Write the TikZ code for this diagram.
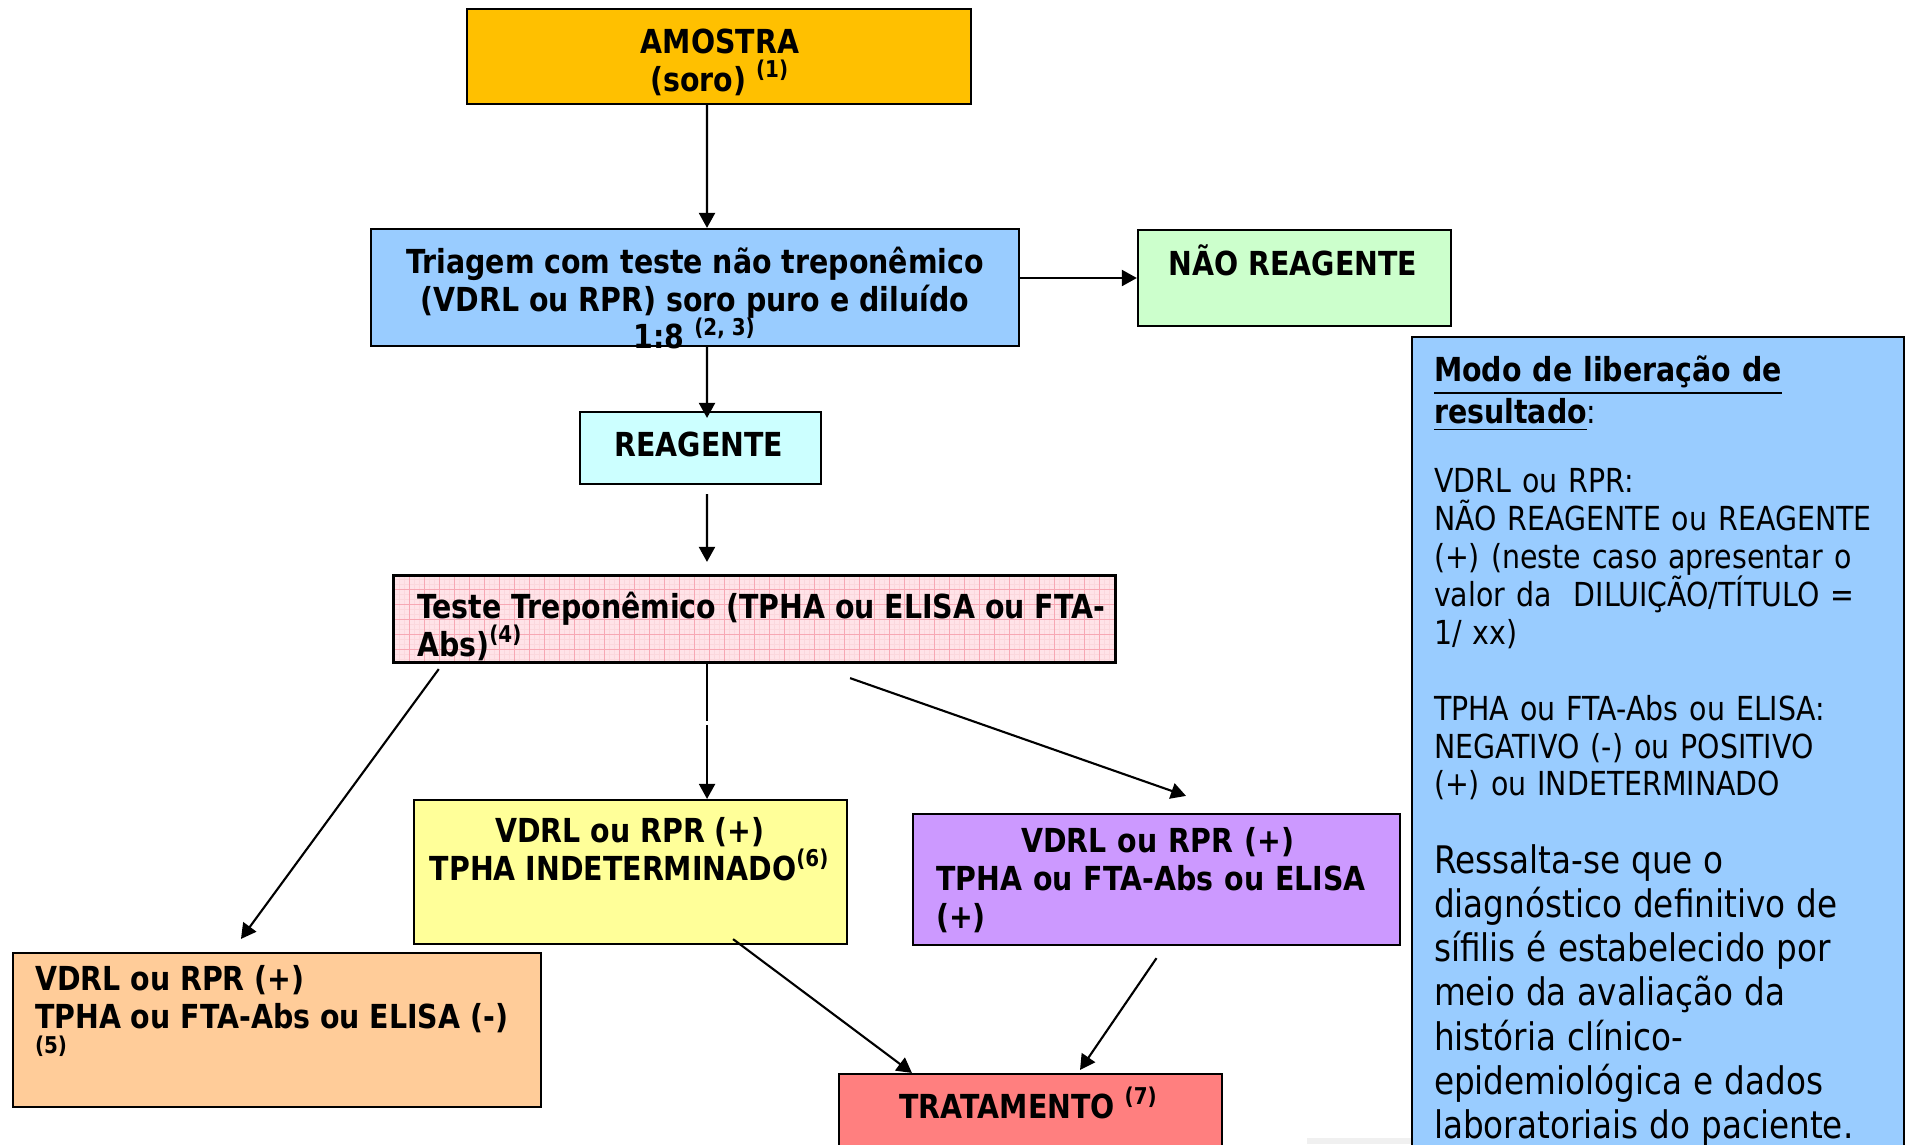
\documentclass[tikz,border=0pt]{standalone}
\usepackage{fontspec}
\setmainfont{DejaVu Sans}[FakeStretch=0.86]
\usepackage{tikz}
\usetikzlibrary{arrows.meta}
\setlength{\parindent}{0pt}

\definecolor{amostraC}{HTML}{FFC000}
\definecolor{triagemC}{HTML}{99CCFF}
\definecolor{naoC}{HTML}{CCFFCC}
\definecolor{reagC}{HTML}{CCFFFF}
\definecolor{testeC}{HTML}{FFE3E8}
\definecolor{gradeC}{HTML}{F7A8B4}
\definecolor{indetC}{HTML}{FFFF99}
\definecolor{posC}{HTML}{CC99FF}
\definecolor{negC}{HTML}{FFCC99}
\definecolor{tratC}{HTML}{FF7F7F}

\newcommand{\fluxfont}{\fontsize{9.4}{10.8}\selectfont\bfseries}
\newcommand{\notafont}{\fontsize{9.4}{10.8}\selectfont}
\newcommand{\grandefont}{\fontsize{10.8}{12.6}\selectfont}
\newcommand{\nota}[1]{\textsuperscript{#1}}

\tikzset{
  caixa/.style={draw=black, line width=0.6pt, inner sep=0pt},
  rotulo/.style={font=\fluxfont, inner sep=0pt, align=center},
}

\begin{document}
\begin{tikzpicture}[x=0.01cm, y=-0.01cm, line width=0.6pt, >={Triangle[length=1.5mm,width=1.6mm]}]
\useasboundingbox (0,0) rectangle (1907,1144);

% boxes
\node[caixa, fill=amostraC, minimum width=5.04cm, minimum height=0.95cm] (amostra) at (719,56.5) {};
\node[caixa, fill=triagemC, minimum width=6.48cm, minimum height=1.17cm] (triagem) at (695,287.5) {};
\node[caixa, fill=naoC, minimum width=3.13cm, minimum height=0.96cm] (nao) at (1294.5,278) {};
\node[caixa, fill=reagC, minimum width=2.41cm, minimum height=0.72cm] (reag) at (700.5,448) {};
\node[caixa, fill=testeC, minimum width=7.21cm, minimum height=0.86cm,
      path picture={
        \draw[gradeC!45, line width=0.15pt, step=0.05cm] (path picture bounding box.south west) grid (path picture bounding box.north east);
        \draw[gradeC, line width=0.25pt, step=0.15cm] (path picture bounding box.south west) grid (path picture bounding box.north east);
      }] (teste) at (754.5,619) {};
\draw[line width=0.6pt] (teste.south west) rectangle (teste.north east);
\node[caixa, fill=indetC, minimum width=4.33cm, minimum height=1.44cm] (indet) at (630.5,872) {};
\node[caixa, fill=posC, minimum width=4.87cm, minimum height=1.31cm] (pos) at (1156.5,879.5) {};
\node[caixa, fill=negC, minimum width=5.28cm, minimum height=1.54cm] (neg) at (277,1030) {};
\node[caixa, fill=tratC, minimum width=3.83cm, minimum height=0.86cm] (trat) at (1030.5,1117) {};
\node[caixa, fill=triagemC, minimum width=4.92cm, minimum height=8.23cm] (modo) at (1658,748.5) {};
\fill[black!6] (1307,1138) rectangle (1411,1144);

% texts
\node[rotulo] (amostra-t) at (720,62) {AMOSTRA\\(soro) \nota{(1)}};
\node[rotulo] (triagem-t) at (695,298) {Triagem com teste não treponêmico\\(VDRL ou RPR) soro puro e diluído\\1:8 \nota{(2, 3)}};
\node[rotulo] (nao-t) at (1293,260) {NÃO REAGENTE};
\node[rotulo] (reag-t) at (699,444) {REAGENTE};
\node[rotulo, anchor=west, align=left] (teste-t) at (416,626) {Teste Treponêmico (TPHA ou ELISA ou FTA-\\Abs)\nota{(4)}};
\node[rotulo] (indet-t) at (630,849) {VDRL ou RPR (+)\\TPHA INDETERMINADO\nota{(6)}};
\node[rotulo, anchor=west, text width=4.43cm, align=left] (pos-t) at (935,880) {{\centering VDRL ou RPR (+)\par}TPHA ou FTA-Abs ou ELISA\\(+)};
\node[rotulo, anchor=west, align=left] (neg-t) at (34,1016) {VDRL ou RPR (+)\\TPHA ou FTA-Abs ou ELISA (-)\\\nota{(5)}};
\node[rotulo] (trat-t) at (1029,1103) {TRATAMENTO \nota{(7)}};

\node[anchor=north west, inner sep=0pt, text width=4.7cm, align=left, font=\notafont] (modo-t) at (1433,355) {%
\underline{\textbf{Modo de liberação de}}\\
\underline{\textbf{resultado}}:\\[8.6pt]
VDRL ou RPR:\\
NÃO REAGENTE ou REAGENTE\\
(+) (neste caso apresentar o\\
valor da\ \ DILUIÇÃO/TÍTULO =\\
1/ xx)\\[\baselineskip]
TPHA ou FTA-Abs ou ELISA:\\
NEGATIVO (-) ou POSITIVO\\
(+) ou INDETERMINADO\par
\vspace{9.3pt}
{\grandefont Ressalta-se que o\\
diagnóstico definitivo de\\
sífilis é estabelecido por\\
meio da avaliação da\\
história clínico-\\
epidemiológica e dados\\
laboratoriais do paciente.\par}};

% arrows
\draw[->] ([xshift=-1.2mm]amostra.south) -- ([xshift=1.2mm]triagem.north);
\draw[->] (triagem.east |- nao.west) -- (nao.west);
\draw[->] ([xshift=1.2mm]triagem.south) -- ([xshift=0.65mm,yshift=-0.7mm]reag.north);
\draw[->] ([xshift=0.65mm,yshift=-0.9mm]reag.south) -- ([xshift=-4.75mm,yshift=1.3mm]teste.north);
\draw ([xshift=-4.75mm]teste.south) -- ([xshift=-4.75mm,yshift=-5.8mm]teste.south);
\draw[->] ([xshift=7.65mm,yshift=7.4mm]indet.north) -- ([xshift=7.65mm]indet.north);
\draw[->] ([xshift=4.6mm,yshift=-0.6mm]teste.south west) -- ([xshift=-3.6mm,yshift=1.3mm]neg.north);
\draw[->] ([xshift=9.55mm,yshift=-1.5mm]teste.south) -- ([xshift=2.95mm,yshift=1.7mm]pos.north);
\draw[->] ([xshift=10.25mm,yshift=0.6mm]indet.south) -- ([xshift=-11.85mm]trat.north);
\draw[->] ([yshift=-1.2mm]pos.south) -- ([xshift=4.95mm,yshift=0.3mm]trat.north);

\end{tikzpicture}
\end{document}
